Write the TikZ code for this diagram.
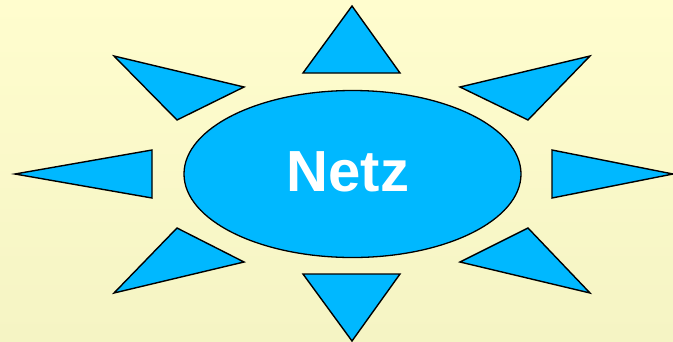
\documentclass[tikz,border=0pt]{standalone}
\usepackage{fontspec}
\setmainfont{Liberation Sans}
\usetikzlibrary{shapes.geometric}
\definecolor{bgtop}{RGB}{255,253,206}
\definecolor{bgbot}{RGB}{245,244,196}
\definecolor{sky}{RGB}{0,184,255}
\begin{document}
\begin{tikzpicture}[x=1pt,y=-1pt,
  ray/.style={fill=sky,draw=black,line width=1.4pt,line join=miter},
  hub/.style={ellipse,fill=sky,draw=black,line width=1.3pt,minimum width=337pt,minimum height=167pt,inner sep=0pt},
  hubtext/.style={text=white,font=\bfseries\fontsize{58}{62}\selectfont,inner sep=0pt}]
\shade[top color=bgtop,bottom color=bgbot] (0,0) rectangle (673,341);
\useasboundingbox (0,0) rectangle (673,341);
% triangles
\draw[ray] (352,6) -- (400,73) -- (303,73) -- cycle;
\draw[ray] (303,274) -- (400,274) -- (352,341) -- cycle;
\draw[ray] (15,174) -- (152,150) -- (152,198) -- cycle;
\draw[ray] (552,150) -- (673,174) -- (552,198) -- cycle;
\draw[ray] (114,56) -- (244,87) -- (177,120) -- cycle;
\draw[ray] (590,56) -- (460,87) -- (528,120) -- cycle;
\draw[ray] (177,228) -- (244,262) -- (114,293) -- cycle;
\draw[ray] (528,228) -- (460,262) -- (590,293) -- cycle;
\node[hub] (netz) at (352.5,174) {};
\node[hubtext,anchor=base] (label) at (348,191) {Netz};
\end{tikzpicture}
\end{document}
